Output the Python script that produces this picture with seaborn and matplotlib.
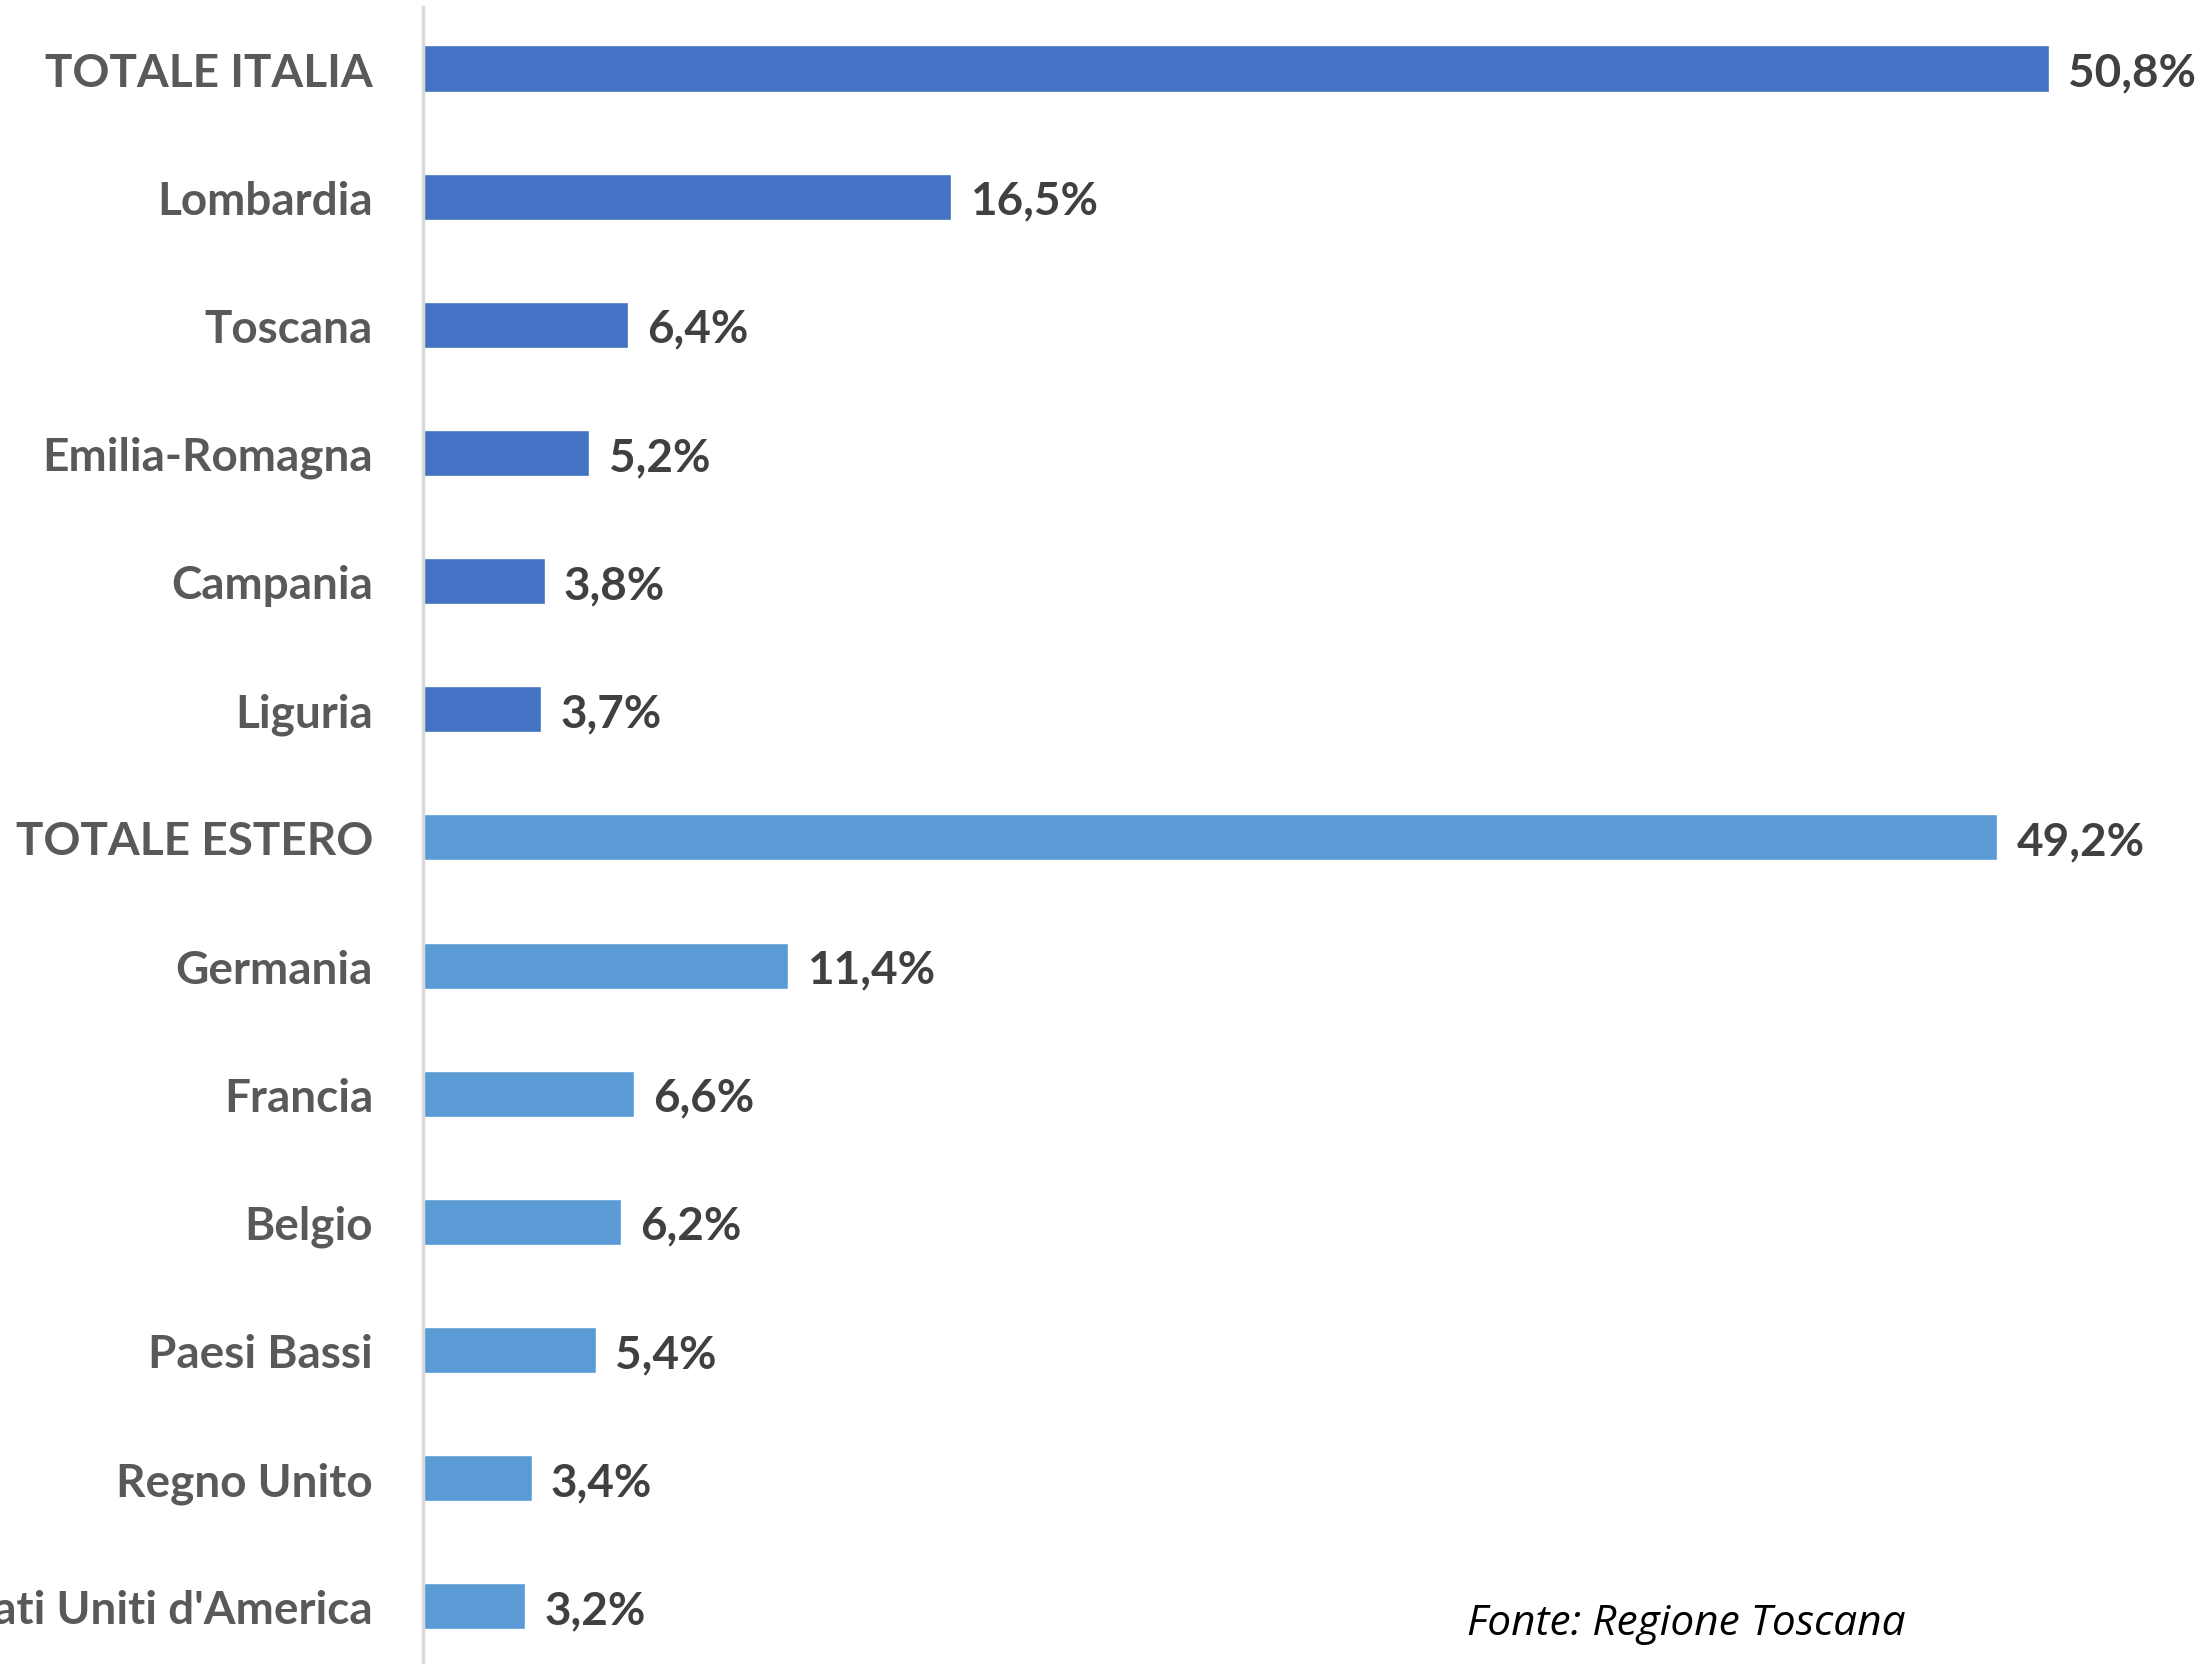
import numpy as np
import pandas as pd

import matplotlib
matplotlib.use('Agg')
import matplotlib.pyplot as plt
import seaborn as sns


categories = [
    'TOTALE ITALIA', 'Lombardia', 'Toscana', 'Emilia-Romagna', 'Campania', 'Liguria',
    'TOTALE ESTERO', 'Germania', 'Francia', 'Belgio', 'Paesi Bassi', 'Regno Unito',
    "Stati Uniti d'America",
]
values = [50.8, 16.5, 6.4, 5.2, 3.8, 3.7, 49.2, 11.4, 6.6, 6.2, 5.4, 3.4, 3.2]
groups = ['Italia'] * 6 + ['Estero'] * 7

colors = {'Italia': '#4472C4', 'Estero': '#5B9BD5'}

df = pd.DataFrame({'area': categories, 'quota': values, 'gruppo': groups})

sns.set_theme(style='white')
plt.rcParams['font.family'] = ['Lato', 'DejaVu Sans']

fig = plt.figure(figsize=(22.05, 16.65), dpi=100)
ax = fig.add_axes([423 / 2205, 0, (2205 - 423) / 2205, 1 - 8 / 1665])

sns.barplot(
    data=df,
    x='quota',
    y='area',
    hue='gruppo',
    palette=colors,
    saturation=1,
    dodge=False,
    width=0.36,
    legend=False,
    ax=ax
)

for i, v in enumerate(values):
    ax.text(
        v + 0.6,
        i,
        f'{v:.1f}'.replace('.', ',') + '%',
        va='center_baseline',
        ha='left',
        fontsize=33,
        fontweight='bold',
        color='#404040'
    )

ax.set_xlim(0, (2205 - 423) / 32.0)
ax.set_ylim(12.45, -0.48)

ax.set_xlabel('')
ax.set_ylabel('')
ax.set_xticks([])

ax.tick_params(axis='y', length=0, pad=36)
for lab in ax.get_yticklabels():
    lab.set_fontsize(33)
    lab.set_fontweight('bold')
    lab.set_color('#595959')

for side in ['top', 'right', 'bottom']:
    ax.spines[side].set_visible(False)
ax.spines['left'].set_color('#D9D9D9')
ax.spines['left'].set_linewidth(2.5)

fig.text(
    1467 / 2205,
    1 - 1624 / 1665,
    'Fonte: Regione Toscana',
    fontsize=30.5,
    fontstyle='italic',
    family=['Open Sans', 'DejaVu Sans'],
    color='black',
    ha='left',
    va='center'
)

fig.savefig('out.png', dpi=100)
